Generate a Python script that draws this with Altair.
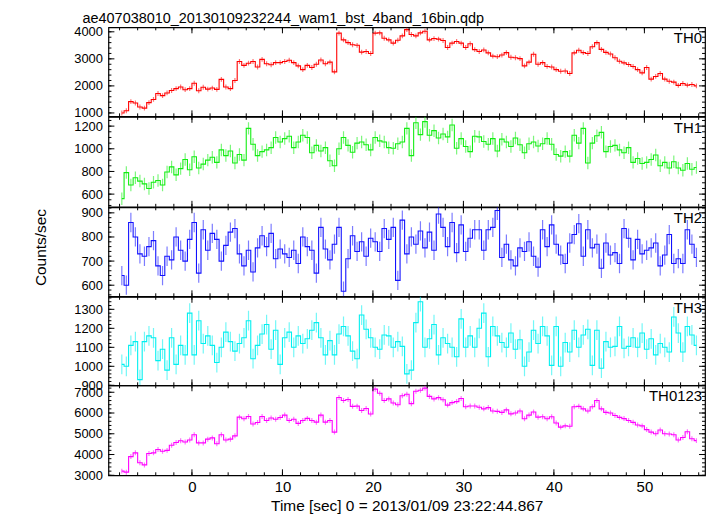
import altair as alt
import numpy as np
import pandas as pd

T0 = -7.75   # first bin centre [s]
DT = 0.5     # bin width [s]

th0 = [1000, 1080, 1420, 1370, 1220, 1180, 1380, 1500, 1720, 1640, 1740, 1830, 1900, 1960, 1860, 1900,
       2100, 1820, 1950, 1880, 1920, 1870, 2240, 1960, 1900, 2200, 2900, 2760, 2840, 2900, 2700, 2980,
       2820, 2780, 2860, 2860, 2900, 2950, 2860, 2740, 2600, 2760, 2680, 2800, 2960, 2820, 2880, 2520,
       3950, 3700, 3600, 3520, 3500, 3250, 3270, 3200, 3950, 3960, 3760, 3700, 3580, 3690, 3850, 4080,
       3900, 3850, 3960, 4020, 3700, 3750, 3730, 3680, 3420, 3580, 3640, 3580, 3420, 3560, 3340, 3270,
       3330, 3220, 3100, 3080, 3140, 3230, 3060, 3040, 3010, 2740, 2880, 3170, 2800, 2860, 2720, 2700,
       2600, 2540, 2550, 2460, 3220, 3320, 3230, 3200, 3450, 3600, 3350, 3240, 3180, 3040, 2910, 2850,
       2790, 2720, 2600, 2480, 2680, 2250, 2350, 2460, 2250, 2170, 2140, 2020, 2090, 2030, 2050, 2000]

th1 = [560, 790, 680, 745, 715, 690, 650, 705, 720, 680, 795, 840, 770, 825, 905, 815,
       930, 830, 865, 900, 925, 880, 990, 940, 980, 875, 950, 900, 1180, 1040, 940, 975,
       990, 1010, 1100, 1060, 1090, 1110, 1010, 1060, 1120, 1100, 965, 1030, 980, 1010, 895, 850,
       1000, 1100, 1030, 970, 1050, 1060, 1035, 990, 1100, 1070, 1060, 1010, 1005, 1045, 1060, 1180,
       940, 1230, 1125, 1240, 1120, 1160, 1095, 1130, 1105, 1210, 1005, 1090, 1020, 975, 1110, 1105,
       1065, 1040, 1090, 980, 1085, 1060, 1020, 1095, 1035, 965, 1045, 1060, 1025, 1045, 1090, 1040,
       950, 935, 975, 935, 1120, 1050, 1180, 875, 1050, 1115, 1145, 975, 1020, 1030, 990, 965,
       1010, 880, 915, 870, 880, 905, 945, 850, 880, 830, 885, 830, 810, 870, 820, 835]

th2 = [640, 600, 860, 800, 730, 720, 760, 785, 680, 640, 720, 705, 800, 745, 700, 790,
       860, 650, 830, 745, 815, 790, 700, 765, 820, 835, 730, 680, 745, 655, 755, 805,
       760, 815, 710, 750, 730, 715, 745, 690, 800, 760, 745, 650, 840, 750, 705, 770,
       840, 575, 710, 805, 740, 780, 720, 795, 780, 740, 835, 790, 840, 620, 870, 730,
       800, 770, 825, 755, 820, 745, 895, 840, 760, 860, 735, 850, 740, 795, 830, 830,
       745, 830, 840, 910, 715, 770, 705, 680, 755, 740, 780, 720, 675, 830, 760, 850,
       770, 725, 690, 775, 810, 855, 720, 830, 755, 770, 670, 775, 725, 735, 690, 835,
       795, 705, 790, 730, 745, 755, 775, 680, 725, 810, 690, 710, 690, 830, 770, 715]

th3 = [1010, 1000, 1110, 1130, 930, 1130, 1160, 1150, 1030, 1090, 980, 1150, 1010, 1110, 1060, 1280,
       1060, 1240, 1120, 1160, 1110, 1020, 1100, 1180, 1130, 1080, 1120, 1150, 1240, 1040, 1110, 1170,
       1220, 1090, 1190, 1010, 1150, 1180, 1100, 1160, 1120, 1145, 1190, 1230, 1150, 1060, 1135, 1060,
       1170, 1210, 1160, 1080, 1040, 1270, 1195, 1150, 1100, 1090, 1165, 1160, 1100, 1130, 1105, 960,
       980, 1230, 1340, 1100, 1145, 1220, 1060, 1150, 1120, 1100, 1050, 1250, 1100, 1160, 1100, 1200,
       1280, 1050, 1210, 1160, 1125, 1100, 1175, 1090, 1140, 1000, 1075, 1190, 1120, 1210, 1160, 1005,
       1210, 1000, 1125, 1075, 1190, 1100, 1165, 1195, 1005, 1190, 990, 1130, 1100, 1105, 1210, 1095,
       1105, 1150, 1100, 1175, 1090, 1145, 1060, 1120, 1100, 1075, 1260, 1175, 1075, 1210, 1165, 1110]

th0123 = [3200, 3150, 3900, 4080, 3600, 3500, 4050, 4080, 4240, 4160, 4200, 4450, 4580, 4660, 4600, 4700,
          4950, 4560, 4560, 4740, 4800, 4520, 4950, 4700, 4740, 4900, 5800, 5720, 5830, 5470, 5540, 5830,
          5640, 5760, 5700, 5780, 5900, 5640, 5700, 5500, 5640, 5740, 5640, 5560, 5900, 5560, 5640, 5080,
          6750, 6600, 6650, 6320, 6330, 6120, 6220, 5950, 7150, 6950, 6600, 6680, 6480, 6400, 6830, 6900,
          6450, 7050, 7100, 7200, 6800, 6680, 6740, 6640, 6380, 6500, 6550, 6700, 6300, 6340, 6340, 6280,
          6200, 6260, 6100, 6080, 6030, 6150, 5960, 6000, 6100, 5720, 5900, 6050, 5800, 5820, 5720, 5820,
          5520, 5320, 5380, 5360, 6300, 6320, 6200, 6100, 6300, 6600, 6200, 6030, 6000, 5880, 5790, 5730,
          5640, 5550, 5420, 5380, 5200, 5080, 5000, 5180, 5000, 4990, 4950, 4700, 4820, 5100, 4760, 4670]

series = [th0, th1, th2, th3, th0123]
names = ["TH0", "TH1", "TH2", "TH3", "TH0123"]
colors = ["#ff0000", "#11ee11", "#1111ff", "#00f0f0", "#ff00ff"]
errors = [90, 55, 40, 52, 120]
ydomains = [[875, 4165], [488, 1282], [554, 923], [900, 1366], [3000, 7335]]
ymajor = [[1000, 2000, 3000, 4000], [600, 800, 1000, 1200], [600, 700, 800, 900],
          [900, 1000, 1100, 1200, 1300], [3000, 4000, 5000, 6000, 7000]]
yminor_step = [200, 50, 20, 20, 200]
heights = [89.5, 90.5, 89.5, 89, 90.5]

XDOM = [-9.23, 56.7]
xmajor = [0, 10, 20, 30, 40, 50]
xminor = list(range(-8, 57, 2))
TITLE = "ae407038010_20130109232244_wam1_bst_4band_16bin.qdp"
XTITLE = "Time [sec] 0 = 2013/01/09 23:22:44.867"
YTITLE = "Counts/sec"
W = 600
FONT = "Liberation Sans"
MAJ, MIN = 6, 3


def panel(i):
    H = heights[i]
    vals = series[i]
    df = pd.DataFrame({"t": T0 + DT * np.arange(len(vals)), "rate": vals})
    df["lo"] = df["rate"] - errors[i]
    df["hi"] = df["rate"] + errors[i]
    xs = alt.Scale(domain=XDOM, nice=False, zero=False)
    ys = alt.Scale(domain=ydomains[i], nice=False, zero=False)
    if i == len(series) - 1:
        xaxis = alt.Axis(values=xmajor, ticks=False, domain=False, grid=False, labelPadding=4,
                         labelFontSize=15, format="d", labelFlush=False, title=XTITLE,
                         titleFontSize=15.5, titleFontWeight="normal", titlePadding=4)
    else:
        xaxis = None
    if i == 2:
        yaxis = alt.Axis(values=ymajor[i], ticks=False, domain=False, grid=False, labelPadding=6,
                         labelFontSize=13, format="d", title=YTITLE, titleFontSize=15.5,
                         titleFontWeight="normal", titleX=-60, titleY=40, titleAngle=270,
                         titleBaseline="bottom", titleAlign="center")
    else:
        yaxis = alt.Axis(values=ymajor[i], ticks=False, domain=False, grid=False, labelPadding=6,
                         labelFontSize=13, format="d", title=None)

    def X(f):
        return alt.X(f, type="quantitative", scale=xs, axis=xaxis)

    def Y(f):
        return alt.Y(f, type="quantitative", scale=ys, axis=yaxis)

    c = colors[i]
    err = alt.Chart(df).mark_rule(color=c, opacity=0.55, strokeWidth=1.2, clip=True).encode(
        x=X("t"), y=Y("lo"), y2="hi")
    line = alt.Chart(df).mark_line(color=c, strokeWidth=1.1, interpolate="step", clip=True).encode(
        x=X("t"), y=Y("rate"))

    d0, d1 = ydomains[i]
    st = yminor_step[i]
    ymin_vals = [v for v in np.arange(np.ceil(d0 / st) * st, d1, st)]
    ymaj_df = pd.DataFrame({"yt": ymajor[i]})
    ymin_df = pd.DataFrame({"yt": ymin_vals})
    xmaj_df = pd.DataFrame({"xt": xmajor})
    xmin_df = pd.DataFrame({"xt": xminor})

    layers = [err, line]
    for dfy, L in [(ymaj_df, MAJ), (ymin_df, MIN)]:
        for x0, x1 in [(0, L), (W, W - L)]:
            layers.append(alt.Chart(dfy).mark_rule(color="black", strokeWidth=1).encode(
                y=Y("yt"), x=alt.value(x0), x2=alt.value(x1)))
    for dfx, L in [(xmaj_df, MAJ), (xmin_df, MIN)]:
        for y0, y1 in [(0, L), (H, H - L)]:
            layers.append(alt.Chart(dfx).mark_rule(color="black", strokeWidth=1).encode(
                x=X("xt"), y=alt.value(y0), y2=alt.value(y1)))
    lab = alt.Chart(pd.DataFrame({"label": [names[i]]})).mark_text(
        align="right", baseline="top", fontSize=15, font=FONT, color="black").encode(
        x=alt.value(W - 3), y=alt.value(4), text="label:N")
    layers.append(lab)
    if i == 0:
        ttl = alt.Chart(pd.DataFrame({"title": [TITLE]})).mark_text(
            align="left", baseline="alphabetic", fontSize=14.5, font=FONT, color="black").encode(
            x=alt.value(-26), y=alt.value(-4.5), text="title:N")
        layers.append(ttl)
    ch = alt.layer(*layers).properties(width=W, height=H)
    return ch


chart = alt.vconcat(*[panel(i) for i in range(len(series))], spacing=0, bounds="flush").properties(
    padding={"left": 25, "top": 0, "right": 2, "bottom": 0}
).configure_view(stroke="black", strokeWidth=1.2).configure_axis(
    labelFont=FONT, titleFont=FONT, labelColor="black", titleColor="black"
).configure_concat(spacing=0)

chart.save("out.html", embed_options={"renderer": "svg", "actions": False})
